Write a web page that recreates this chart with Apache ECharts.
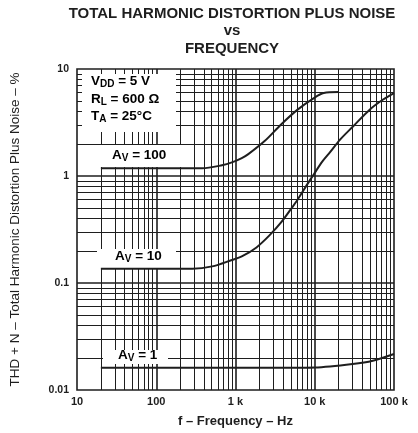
<!DOCTYPE html>
<html><head><meta charset="utf-8">
<script src="https://cdn.jsdelivr.net/npm/echarts@6/dist/echarts.min.js"></script>
<style>html,body{margin:0;padding:0;background:#fff}#c{width:418px;height:433px}</style>
</head><body><div id="c"></div>
<script>
// Data
const freqAv100 = [20, 100, 380, 676, 900, 1200, 1450, 2330, 3760, 6070, 9750, 13000, 20000];
const thdAv100  = [1.18, 1.18, 1.18, 1.26, 1.34, 1.47, 1.6, 2.12, 3.03, 4.17, 5.35, 5.96, 6.08];
const freqAv10  = [20, 286, 508, 900, 1200, 1840, 2700, 3760, 5000, 6070, 8000, 9750, 12500, 15700, 21000, 30600, 49300, 72000, 100000];
const thdAv10   = [0.136, 0.136, 0.143, 0.164, 0.177, 0.215, 0.28, 0.368, 0.49, 0.6, 0.83, 1.04, 1.37, 1.68, 2.2, 2.92, 4.17, 5.16, 5.96];
const freqAv1   = [20, 1000, 5000, 10000, 30000, 54000, 100000];
const thdAv1    = [0.0161, 0.0161, 0.0161, 0.0162, 0.0175, 0.0188, 0.0217];
const xTickValues = [10, 100, 1000, 10000, 100000];
const xTickLabels = ['10', '100', '1 k', '10 k', '100 k'];
const yTickValues = [0.01, 0.1, 1, 10];
const yTickLabels = ['0.01', '0.1', '1', '10'];
const gridMultipliers = [2, 3, 4, 5, 6, 7, 8, 9];

const INK = '#1e1e1e';
const FONT = 'Liberation Sans, Arial, sans-serif';
const pair = (xs, ys) => xs.map((x, i) => [x, ys[i]]);
function labelFor(values, labels, v) {
  for (let i = 0; i < values.length; i++) {
    if (Math.abs(Math.log10(v) - Math.log10(values[i])) < 1e-6) return labels[i];
  }
  return '';
}
// grid lines (positions from the axis scales)
const vLines = [], hLines = [];
for (let d = 0; d < xTickValues.length - 1; d++) {
  gridMultipliers.forEach(m => vLines.push({xAxis: xTickValues[d] * m, lineStyle: {width: 1}}));
  if (d > 0) vLines.push({xAxis: xTickValues[d], lineStyle: {width: 1.6}});
}
for (let d = 0; d < yTickValues.length - 1; d++) {
  gridMultipliers.forEach(m => hLines.push({yAxis: yTickValues[d] * m, lineStyle: {width: 1}}));
  if (d > 0) hLines.push({yAxis: yTickValues[d], lineStyle: {width: 1.6}});
}

const chart = echarts.init(document.getElementById('c'), null, {renderer: 'canvas'});
function richText(main, sub, rest, align) {
  return {
    text: '{a|' + main + '}{s|' + sub + '}{a|' + rest + '}',
    rich: {
      a: {fontSize: 13.5, fontWeight: 'bold', fontFamily: FONT, color: INK},
      s: {fontSize: 10, fontWeight: 'bold', fontFamily: FONT, color: INK, padding: [6, 0, 0, 0]}
    },
    align: align, verticalAlign: 'middle'
  };
}

chart.setOption({
  animation: false,
  backgroundColor: '#fff',
  title: {
    text: 'TOTAL HARMONIC DISTORTION PLUS NOISE\nvs\nFREQUENCY',
    left: 227, top: 0, textAlign: 'center',
    textStyle: {fontFamily: FONT, fontWeight: 'bold', fontSize: 15, color: INK, lineHeight: 17.5}
  },
  grid: {left: 73, top: 69, width: 321, height: 323, show: true, borderColor: INK, borderWidth: 1.6, backgroundColor: 'transparent'},
  xAxis: {
    type: 'log', logBase: 10, min: 10, max: 100000,
    name: 'f – Frequency – Hz', nameLocation: 'middle', nameGap: 25,
    nameTextStyle: {fontFamily: FONT, fontWeight: 'bold', fontSize: 13, color: INK},
    axisLine: {show: false}, axisTick: {show: false}, splitLine: {show: false},
    axisLabel: {margin: 6, fontFamily: FONT, fontWeight: 'bold', fontSize: 11, color: INK,
      formatter: v => labelFor(xTickValues, xTickLabels, v)}
  },
  yAxis: {
    type: 'log', logBase: 10, min: 0.01, max: 10,
    name: 'THD + N – Total Harmonic Distortion Plus Noise – %', nameLocation: 'middle', nameGap: 55,
    nameTextStyle: {fontFamily: FONT, fontSize: 13.5, color: INK},
    axisLine: {show: false}, axisTick: {show: false}, splitLine: {show: false},
    axisLabel: {margin: 8, fontFamily: FONT, fontWeight: 'bold', fontSize: 10.5, color: INK,
      formatter: v => labelFor(yTickValues, yTickLabels, v)}
  },
  graphic: [
    {type: 'rect', z: 50, shape: {x: 82, y: 74, width: 94, height: 58}, style: {fill: '#fff'}},
    {type: 'rect', z: 50, shape: {x: 97, y: 145, width: 93, height: 22}, style: {fill: '#fff'}},
    {type: 'rect', z: 50, shape: {x: 97, y: 249, width: 79, height: 19}, style: {fill: '#fff'}},
    {type: 'rect', z: 50, shape: {x: 103, y: 350, width: 65, height: 14}, style: {fill: '#fff'}},
    {type: 'text', z: 60, left: 91, top: 74, style: richText('V', 'DD', ' = 5 V', 'left')},
    {type: 'text', z: 60, left: 91, top: 92, style: richText('R', 'L', ' = 600 Ω', 'left')},
    {type: 'text', z: 60, left: 91, top: 109, style: richText('T', 'A', ' = 25°C', 'left')},
    {type: 'text', z: 60, left: 112, top: 148, style: richText('A', 'V', ' = 100', 'left')},
    {type: 'text', z: 60, left: 115, top: 249, style: richText('A', 'V', ' = 10', 'left')},
    {type: 'text', z: 60, left: 118, top: 348, style: richText('A', 'V', ' = 1', 'left')}
  ],
  series: [
    {
      type: 'line', data: [], z: 1, silent: true,
      markLine: {silent: true, symbol: 'none', label: {show: false}, animation: false,
        lineStyle: {color: INK, type: 'solid', width: 1}, data: vLines.concat(hLines)}
    },
    {type: 'line', name: 'Av=100', data: pair(freqAv100, thdAv100), smooth: 0.3, showSymbol: false, z: 100,
      lineStyle: {color: INK, width: 2}},
    {type: 'line', name: 'Av=10', data: pair(freqAv10, thdAv10), smooth: 0.3, showSymbol: false, z: 100,
      lineStyle: {color: INK, width: 2}},
    {type: 'line', name: 'Av=1', data: pair(freqAv1, thdAv1), smooth: 0.3, showSymbol: false, z: 100,
      lineStyle: {color: INK, width: 2}}
  ]
});
</script></body></html>
